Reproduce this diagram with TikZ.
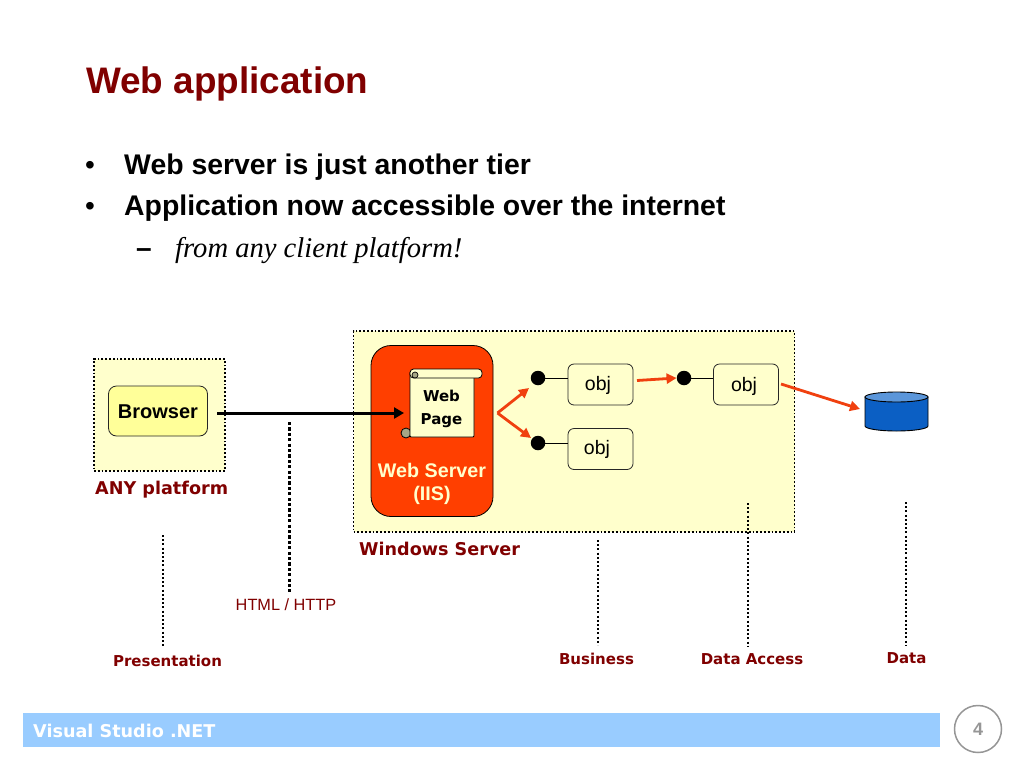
\documentclass[tikz,border=0pt]{standalone}
\usepackage{fontspec}
\setmainfont{Liberation Sans}
\newfontfamily\serifit{Liberation Serif}
\newfontfamily\wide{DejaVu Sans}
\usetikzlibrary{arrows.meta,shapes.geometric}
\definecolor{darkred}{HTML}{800000}
\definecolor{paleyellow}{HTML}{FFFFCC}
\definecolor{midyellow}{HTML}{FFFF99}
\definecolor{iisred}{HTML}{FF3F00}
\definecolor{arrowred}{HTML}{F0400F}
\definecolor{barblue}{HTML}{99CCFF}
\definecolor{dbblue}{HTML}{0B5FC4}
\definecolor{dbtop}{HTML}{5B96DA}
\definecolor{greyc}{HTML}{969696}
\tikzset{
 x=1pt,y=-1pt,
 txt/.style={inner sep=0pt,anchor=base west,font=#1},
 zone/.style={fill=paleyellow,draw=black,line width=1.8pt,dash pattern=on 1.8pt off 2pt},
 objbox/.style={draw=black!85,line width=.8pt,fill=paleyellow,rounded corners=6pt,minimum width=65pt,minimum height=41pt,inner sep=0pt},
 objlabel/.style={inner sep=0pt,anchor=base,font=\fontsize{19.5}{20}\selectfont},
 label/.style={inner sep=0pt,text=darkred,font=\fontsize{15}{20}\wide\bfseries\selectfont},
 tier/.style={draw=black,line width=2pt,dash pattern=on 2pt off 2.2pt},
 red arrow/.style={draw=arrowred,line width=2.8pt,-{Triangle[length=10pt,width=10pt]}},
 dot/.style={circle,fill=black,inner sep=0pt,minimum size=14.5pt},
 stem/.style={draw=black,line width=.9pt},
}
\begin{document}
\begin{tikzpicture}
\useasboundingbox (0,0) rectangle (1024,768);
\fill[white] (0,0) rectangle (1024,768);
% title and bullets
\node[txt={\fontsize{36.9}{40}\selectfont\bfseries},text=darkred] (title) at (86,93) {Web application};
\node[txt={\fontsize{28}{30}\selectfont}] (b1) at (85,174) {•};
\node[txt={\fontsize{28.4}{30}\selectfont\bfseries}] (t1) at (124,174) {Web server is just another tier};
\node[txt={\fontsize{28}{30}\selectfont}] (b2) at (85,215) {•};
\node[txt={\fontsize{28.4}{30}\selectfont\bfseries}] (t2) at (124,215) {Application now accessible over the internet};
\node[txt={\fontsize{28}{30}\selectfont\bfseries}] (b3) at (136,257) {–};
\node[txt={\fontsize{28.6}{30}\serifit\itshape\selectfont}] (t3) at (175,257) {from any client platform!};
% zones
\node[zone,minimum width=131pt,minimum height=112pt,inner sep=0pt] (anyzone) at (159.5,415) {};
\node[zone,minimum width=441pt,minimum height=201pt,inner sep=0pt] (winzone) at (574,431.5) {};
\node[draw=black!85,line width=.8pt,fill=midyellow,rounded corners=8pt,minimum width=99pt,minimum height=50pt,inner sep=0pt] (browser) at (158,411) {};
\node[inner sep=0pt,anchor=base,font=\fontsize{20}{22}\selectfont\bfseries] (browserl) at (158,418) {Browser};
\node[label,anchor=base west,font=\fontsize{17.6}{20}\wide\bfseries\selectfont] (anyl) at (95,494) {ANY platform};
\node[label,anchor=base west,font=\fontsize{17.6}{22}\wide\bfseries\selectfont] (winl) at (359,555) {Windows Server};
% web server
\node[draw=black,line width=.8pt,fill=iisred,rounded corners=20pt,minimum width=122pt,minimum height=171pt,inner sep=0pt] (iis) at (432,431) {};
\node[inner sep=0pt,text=paleyellow,align=center,font=\fontsize{19.7}{23.5}\selectfont\bfseries] (iisl) at (432,484) {Web Server\\(IIS)};
% scroll
\node[circle,draw=black,line width=.8pt,fill=black!35!paleyellow,inner sep=0pt,minimum size=10pt] (rollb) at (406,433) {};
\node[draw=black,line width=.8pt,fill=paleyellow,minimum width=64pt,minimum height=65pt,inner sep=0pt,rounded corners=1pt] (page) at (442,404.5) {};
\node[draw=black,line width=.8pt,fill=paleyellow,rounded corners=3.5pt,minimum width=72pt,minimum height=9pt,inner sep=0pt] (roll) at (446,373.5) {};
\node[circle,draw=black,line width=.7pt,fill=black!35!paleyellow,inner sep=0pt,minimum size=6pt] (rolla) at (415,375) {};
\node[inner sep=0pt,align=center,font=\fontsize{15}{23}\wide\bfseries\selectfont] (pagel) at (441.5,408.5) {Web\\Page};
% objects
\node[objbox] (o1) at (600.5,384.5) {};
\node[objbox] (o2) at (600.5,449) {};
\node[objbox] (o3) at (746,384.5) {};
\node[objlabel] (o1l) at (598,390) {obj};
\node[objlabel] (o2l) at (597,454) {obj};
\node[objlabel] (o3l) at (744,391) {obj};
\node[dot] (d1) at (538,378) {};
\node[dot] (d2) at (538,443) {};
\node[dot] (d3) at (684,378) {};
\draw[stem] (d1) -- (d1-|o1.west);
\draw[stem] (d2) -- (d2-|o2.west);
\draw[stem] (d3) -- (d3-|o3.west);
% database
\draw[black,line width=.9pt,fill=dbblue] (865,397) -- (865,426) arc[start angle=180,end angle=360,x radius=31.5pt,y radius=5pt] -- (928,397) -- cycle;
\draw[black,line width=.9pt,fill=dbtop] (896.5,397) ellipse[x radius=31.5pt,y radius=5pt];
\coordinate (db) at (860,409);
% connectors
\coordinate (bstart) at (217,413);
\draw[black,line width=3pt,-{Triangle[length=10pt,width=11pt]}] (bstart) -- (404,413);
\coordinate (fork) at (497.5,413);
\draw[red arrow] (fork) -- (529,388);
\draw[red arrow] (fork) -- (531,438);
\coordinate (oa) at (637,380.5);
\draw[red arrow] (oa) -- (d3.west);
\coordinate (ob) at (781,384);
\draw[red arrow] (ob) -- (db);
% tier lines
\coordinate (t1a) at (163,535); \coordinate (t1b) at (163,646);
\draw[tier] (t1a) -- (t1b);
\coordinate (t2a) at (289.5,422); \coordinate (t2b) at (289.5,592);
\draw[black,line width=3.2pt,dash pattern=on 3.2pt off 2.2pt] (t2a) -- (t2b);
\coordinate (t3a) at (597.5,540); \coordinate (t3b) at (597.5,645);
\draw[tier] (t3a) -- (t3b);
\coordinate (t4a) at (748,503); \coordinate (t4b) at (748,647);
\draw[tier] (t4a) -- (t4b);
\coordinate (t5a) at (905.5,502); \coordinate (t5b) at (905.5,646);
\draw[tier] (t5a) -- (t5b);
% tier labels
\node[inner sep=0pt,text=darkred,anchor=base,font=\fontsize{16.3}{20}\selectfont] (http) at (286,610) {HTML / HTTP};
\node[label,anchor=base] (lp) at (167.5,666) {Presentation};
\node[label,anchor=base] (lb) at (596.5,664) {Business};
\node[label,anchor=base] (ld) at (752,664) {Data Access};
\node[label,anchor=base] (le) at (906.5,663) {Data};
% footer
\node[fill=barblue,inner sep=0pt,minimum width=917pt,minimum height=34pt] (bar) at (481.5,730) {};
\node[txt={\fontsize{17.6}{22}\wide\bfseries\selectfont},text=white] (barl) at (33,737) {Visual Studio .NET};
\node[circle,draw=greyc,line width=1.5pt,fill=white,minimum size=47pt,inner sep=0pt,text=greyc,font=\fontsize{18}{20}\selectfont\bfseries] (pg) at (978,729) {4};
\end{tikzpicture}
\end{document}
